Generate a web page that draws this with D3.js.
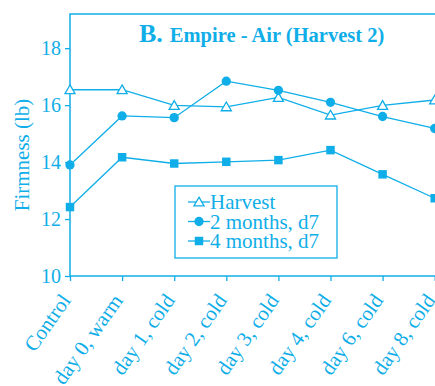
<!DOCTYPE html>
<html>
<head>
<meta charset="utf-8">
<script src="https://cdn.jsdelivr.net/npm/d3@7"></script>
<style>
  html, body { margin: 0; padding: 0; background: #fff; }
  svg { display: block; }
  text { font-family: "Liberation Serif", "Times New Roman", serif; }
</style>
</head>
<body>
<svg id="chart" width="435" height="386"></svg>
<script>
// Firmness of Empire apples (Harvest 2), stored in air
const categories = ["Control", "day 0, warm", "day 1, cold", "day 2, cold",
                    "day 3, cold", "day 4, cold", "day 6, cold", "day 8, cold"];
const harvest   = [16.54, 16.54, 15.99, 15.94, 16.27, 15.65, 15.99, 16.18];
const months2   = [13.90, 15.62, 15.56, 16.84, 16.52, 16.10, 15.60, 15.18];
const months4   = [12.42, 14.17, 13.95, 14.01, 14.07, 14.42, 13.57, 12.73];
const yTicks    = [10, 12, 14, 16, 18];
const seriesNames = ["Harvest", "2 months, d7", "4 months, d7"];

const color = "#10aee8";
const svg = d3.select("#chart");

const plot = { left: 70, top: 14, bottom: 276, right: 500 };

const x = d3.scalePoint().domain(categories).range([70, 434.7]);
const y = d3.scaleLinear().domain([10, 19.2]).range([plot.bottom, plot.top]);

// frame: left and top edges
svg.append("path")
  .attr("d", `M${plot.left},${plot.bottom}V${plot.top}H${plot.right}`)
  .attr("fill", "none").attr("stroke", color).attr("stroke-width", 1.5);

// y axis
const yAxis = svg.append("g")
  .attr("transform", `translate(${plot.left},0)`)
  .call(d3.axisLeft(y).tickValues(yTicks).tickSize(5).tickPadding(4).tickFormat(d3.format("d")));
yAxis.select(".domain").remove();
yAxis.selectAll("line").attr("stroke", color).attr("stroke-width", 1.3);
yAxis.selectAll("text").attr("fill", color).attr("font-size", 20)
  .attr("font-family", "Liberation Serif, serif");

// x axis
const xAxis = svg.append("g")
  .attr("transform", `translate(0,${plot.bottom})`)
  .call(d3.axisBottom(x).tickSize(5).tickSizeOuter(0));
xAxis.select(".domain").attr("stroke", color).attr("stroke-width", 1.5)
  .attr("d", `M${plot.left},0H${plot.right}`);
xAxis.selectAll("line").attr("stroke", color).attr("stroke-width", 1.3);
xAxis.selectAll("text")
  .attr("fill", color).attr("font-size", 21)
  .attr("font-family", "Liberation Serif, serif")
  .attr("text-anchor", "end")
  .attr("dy", 0)
  .attr("transform", "translate(1,24.5) rotate(-55)")
  .attr("y", 0).attr("x", 0);

// y axis title
svg.append("text")
  .attr("transform", `translate(29,155) rotate(-90)`)
  .attr("text-anchor", "middle")
  .attr("fill", color).attr("font-size", 21)
  .text("Firmness (lb)");

// chart title
const title = svg.append("text").attr("x", 139).attr("y", 42).attr("fill", color)
  .attr("font-weight", "bold");
title.append("tspan").attr("font-size", 26).text("B.");
title.append("tspan").attr("font-size", 20.5).attr("dx", 7).text("Empire - Air (Harvest 2)");

// series
const line = d3.line().x((d, i) => x(categories[i])).y(d => y(d));
const series = [harvest, months2, months4];

const triangle = d3.symbol().type(d3.symbolTriangle).size(44);
const square = d3.symbol().type(d3.symbolSquare).size(72);
const circle = d3.symbol().type(d3.symbolCircle).size(68);

function marker(g, k, cx, cy) {
  if (k === 0) {
    g.append("path").attr("d", triangle())
      .attr("transform", `translate(${cx},${cy + 1})`)
      .attr("fill", "#fff").attr("stroke", color).attr("stroke-width", 1.3);
  } else {
    g.append("path").attr("d", (k === 1 ? circle : square)())
      .attr("transform", `translate(${cx},${cy})`)
      .attr("fill", color);
  }
}

series.forEach((vals, k) => {
  svg.append("path").datum(vals)
    .attr("d", line).attr("fill", "none")
    .attr("stroke", color).attr("stroke-width", 1.3);
  const g = svg.append("g");
  vals.forEach((v, i) => marker(g, k, x(categories[i]), y(v)));
});

// legend
const legend = svg.append("g");
legend.append("rect")
  .attr("x", 175).attr("y", 186).attr("width", 162).attr("height", 72)
  .attr("fill", "#fff").attr("stroke", color).attr("stroke-width", 1.3);
seriesNames.forEach((name, k) => {
  const cy = 202 + k * 19.5;
  legend.append("line").attr("x1", 188).attr("x2", 210).attr("y1", cy).attr("y2", cy)
    .attr("stroke", color).attr("stroke-width", 1.3);
  marker(legend, k, 199, cy);
  legend.append("text").attr("x", 210).attr("y", cy + 7)
    .attr("fill", color).attr("font-size", 21).text(name);
});
</script>
</body>
</html>
